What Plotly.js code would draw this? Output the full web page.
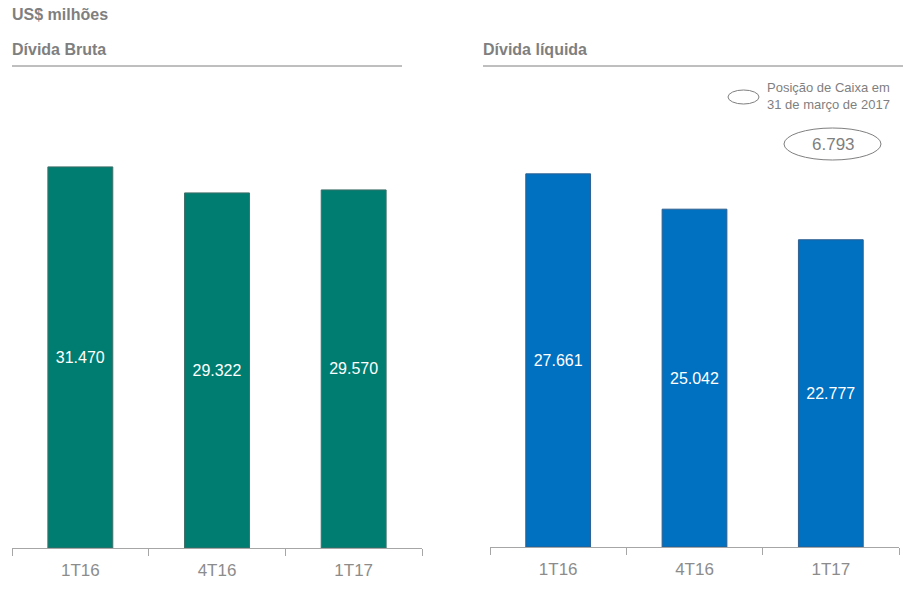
<!DOCTYPE html>
<html><head><meta charset="utf-8">
<script src="https://cdn.plot.ly/plotly-3.0.1.min.js"></script>
<style>html,body{margin:0;padding:0;background:#fff}#chart{width:917px;height:594px}</style>
</head><body><div id="chart"></div>
<script>
const categories = ['1T16', '4T16', '1T17'];
const dividaBruta = [31470, 29322, 29570];
const dividaLiquida = [27661, 25042, 22777];
const caixa = 6793;
const unitTitle = 'US$ milhões';
const leftTitle = 'Dívida Bruta';
const rightTitle = 'Dívida líquida';
const legendText = 'Posição de Caixa em<br>31 de março de 2017';

const fmt = v => v.toLocaleString('de-DE');

const barFont = {family: 'Liberation Sans, Arial', size: 16, color: '#ffffff'};
const traces = [
  {type: 'bar', x: categories, y: dividaBruta, xaxis: 'x', yaxis: 'y',
   marker: {color: '#007D71', line: {color: '#3f6f69', width: 1}},
   text: dividaBruta.map(fmt), textposition: 'inside', insidetextanchor: 'middle',
   textfont: barFont, hoverinfo: 'skip', showlegend: false, width: 0.475},
  {type: 'bar', x: categories, y: dividaLiquida, xaxis: 'x2', yaxis: 'y2',
   marker: {color: '#0070C0', line: {color: '#2f5f8f', width: 1}},
   text: dividaLiquida.map(fmt), textposition: 'inside', insidetextanchor: 'middle',
   textfont: barFont, hoverinfo: 'skip', showlegend: false, width: 0.475}
];

const W = 917, H = 594;
const axisCommon = {
  showline: true, linecolor: '#a6a6a6', linewidth: 1,
  ticks: 'outside', tickson: 'boundaries', ticklen: 7, tickcolor: '#a6a6a6',
  ticklabelstandoff: 7,
  showgrid: false, zeroline: false,
  tickfont: {family: 'Liberation Sans Narrow, Liberation Sans, Arial', size: 17, color: '#8c8c8c'}
};
const yCommon = {showline: false, showgrid: false, zeroline: false, showticklabels: false, ticks: ''};

const grayText = '#7f7f7f';
const layout = {
  width: W, height: H, margin: {l: 0, r: 0, t: 0, b: 0},
  paper_bgcolor: '#fff', plot_bgcolor: 'rgba(0,0,0,0)',
  font: {family: 'Liberation Sans, Arial', color: grayText},
  xaxis: Object.assign({domain: [12/W, 422/W], anchor: 'y'}, axisCommon),
  xaxis2: Object.assign({domain: [490/W, 899/W], anchor: 'y2'}, axisCommon),
  yaxis: Object.assign({domain: [(H-548)/H, (H-80)/H], range: [0, 38646], anchor: 'x'}, yCommon),
  yaxis2: Object.assign({domain: [(H-547)/H, (H-80)/H], range: [0, 34618], anchor: 'x2'}, yCommon),
  bargap: 0.525,
  annotations: [
    {xref: 'paper', yref: 'paper', x: 10/W, y: (H-14)/H, xanchor: 'left', yanchor: 'middle',
     text: '<b>' + unitTitle + '</b>', showarrow: false, font: {size: 16, color: grayText}},
    {xref: 'paper', yref: 'paper', x: 10/W, y: (H-50)/H, xanchor: 'left', yanchor: 'middle',
     text: '<b>' + leftTitle + '</b>', showarrow: false, font: {size: 16, color: grayText}},
    {xref: 'paper', yref: 'paper', x: 481/W, y: (H-50)/H, xanchor: 'left', yanchor: 'middle',
     text: '<b>' + rightTitle + '</b>', showarrow: false, font: {size: 16, color: grayText}},
    {xref: 'paper', yref: 'paper', x: 765/W, y: (H-96)/H, xanchor: 'left', yanchor: 'middle',
     text: legendText, showarrow: false, align: 'left', font: {size: 13, color: grayText}},
    {xref: 'paper', yref: 'paper', x: 833/W, y: (H-144)/H, xanchor: 'center', yanchor: 'middle',
     text: fmt(caixa), showarrow: false, font: {size: 17, color: grayText}}
  ],
  shapes: [
    {type: 'line', xref: 'paper', yref: 'paper', x0: 12/W, x1: 402/W, y0: (H-66)/H, y1: (H-66)/H,
     line: {color: '#7f7f7f', width: 1}},
    {type: 'line', xref: 'paper', yref: 'paper', x0: 483/W, x1: 903/W, y0: (H-66)/H, y1: (H-66)/H,
     line: {color: '#7f7f7f', width: 1}},
    {type: 'circle', xref: 'paper', yref: 'paper', x0: 728/W, x1: 759/W, y0: (H-104)/H, y1: (H-90)/H,
     line: {color: '#7f7f7f', width: 1}},
    {type: 'circle', xref: 'paper', yref: 'paper', x0: 784/W, x1: 881/W, y0: (H-160)/H, y1: (H-128)/H,
     line: {color: '#7f7f7f', width: 1}}
  ]
};
Plotly.newPlot('chart', traces, layout, {displayModeBar: false, staticPlot: true});
</script></body></html>
